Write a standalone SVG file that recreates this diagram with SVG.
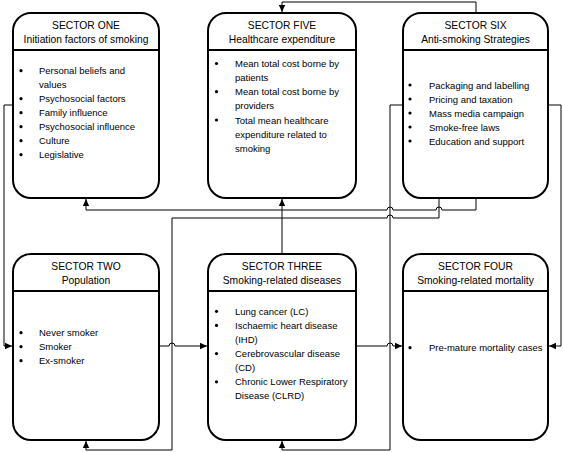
<svg xmlns="http://www.w3.org/2000/svg" width="563" height="452" viewBox="0 0 563 452">
<defs>
<style>
.box{fill:#fff;stroke:#000;stroke-width:2}
.div{stroke:#000;stroke-width:2}
.t{font-family:"Liberation Sans",Arial,sans-serif;font-size:10.3px;text-anchor:middle;fill:#000}
.i{font-family:"Liberation Sans",Arial,sans-serif;font-size:9.5px;fill:#000}
.b{fill:#000}
.c{fill:none;stroke:#000;stroke-width:1}
</style>
<marker id="ah" markerUnits="userSpaceOnUse" markerWidth="8" markerHeight="8" refX="7" refY="4" orient="auto">
<path d="M0,0.8 L7,4 L0,7.2 Z" fill="#000"/>
</marker>
</defs>
<rect width="563" height="452" fill="#fff"/>
<g id="connectors">
<path class="c" d="M13,105 H4 V346 H12" marker-end="url(#ah)"/>
<path class="c" d="M476,13 V2 H282 V12" marker-end="url(#ah)"/>
<path class="c" d="M476,198 V210 H442 a3,3 0 0 0 -6,0 H393 a3,3 0 0 0 -6,0 H86 V199" marker-end="url(#ah)"/>
<path class="c" d="M439,198 V218 H393 a3,3 0 0 0 -6,0 H172 V450 H86 V441" marker-end="url(#ah)"/>
<path class="c" d="M403,105 H390 V450 H282 V441" marker-end="url(#ah)"/>
<path class="c" d="M548,105 H561 V346 H549" marker-end="url(#ah)"/>
<path class="c" d="M282,254 V199" marker-end="url(#ah)"/>
<path class="c" d="M159,346 H169 a3,3 0 0 1 6,0 H207" marker-end="url(#ah)"/>
<path class="c" d="M356,346 H387 a3,3 0 0 1 6,0 H402" marker-end="url(#ah)"/>
</g>
<g id="sector-one">
<rect class="box" x="13" y="13" width="146" height="185" rx="18"/>
<line class="div" x1="13" y1="50" x2="159" y2="50"/>
<text class="t" x="86" y="28.5">SECTOR ONE</text>
<text class="t" x="86" y="42.5">Initiation factors of smoking</text>
<circle class="b" cx="21" cy="70.7" r="1.6"/><text class="i" x="39" y="74">Personal beliefs and</text>
<text class="i" x="39" y="88">values</text>
<circle class="b" cx="21" cy="98.7" r="1.6"/><text class="i" x="39" y="102">Psychosocial factors</text>
<circle class="b" cx="21" cy="112.7" r="1.6"/><text class="i" x="39" y="116">Family influence</text>
<circle class="b" cx="21" cy="126.7" r="1.6"/><text class="i" x="39" y="130">Psychosocial influence</text>
<circle class="b" cx="21" cy="140.7" r="1.6"/><text class="i" x="39" y="144">Culture</text>
<circle class="b" cx="21" cy="154.7" r="1.6"/><text class="i" x="39" y="158">Legislative</text>
</g>
<g id="sector-five">
<rect class="box" x="208" y="13" width="148" height="185" rx="18"/>
<line class="div" x1="208" y1="50" x2="356" y2="50"/>
<text class="t" x="282" y="28.5">SECTOR FIVE</text>
<text class="t" x="282" y="42.5">Healthcare expenditure</text>
<circle class="b" cx="216.5" cy="63.5" r="1.6"/><text class="i" x="235" y="67">Mean total cost borne by</text>
<text class="i" x="235" y="81">patients</text>
<circle class="b" cx="216.5" cy="91.7" r="1.6"/><text class="i" x="235" y="95.2">Mean total cost borne by</text>
<text class="i" x="235" y="109.3">providers</text>
<circle class="b" cx="216.5" cy="120" r="1.6"/><text class="i" x="235" y="123.5">Total mean healthcare</text>
<text class="i" x="235" y="137.6">expenditure related to</text>
<text class="i" x="235" y="151.7">smoking</text>
</g>
<g id="sector-six">
<rect class="box" x="403" y="13" width="145" height="185" rx="18"/>
<line class="div" x1="403" y1="50" x2="548" y2="50"/>
<text class="t" x="475.5" y="28.5">SECTOR SIX</text>
<text class="t" x="475.5" y="42.5">Anti-smoking Strategies</text>
<circle class="b" cx="410" cy="85" r="1.6"/><text class="i" x="429" y="88.5">Packaging and labelling</text>
<circle class="b" cx="410" cy="99" r="1.6"/><text class="i" x="429" y="102.5">Pricing and taxation</text>
<circle class="b" cx="410" cy="113" r="1.6"/><text class="i" x="429" y="116.5">Mass media campaign</text>
<circle class="b" cx="410" cy="127" r="1.6"/><text class="i" x="429" y="130.5">Smoke-free laws</text>
<circle class="b" cx="410" cy="141" r="1.6"/><text class="i" x="429" y="144.5">Education and support</text>
</g>
<g id="sector-two">
<rect class="box" x="13" y="254" width="146" height="186" rx="18"/>
<line class="div" x1="13" y1="291" x2="159" y2="291"/>
<text class="t" x="86" y="269.5">SECTOR TWO</text>
<text class="t" x="86" y="283.5">Population</text>
<circle class="b" cx="21" cy="332.7" r="1.6"/><text class="i" x="39" y="336.2">Never smoker</text>
<circle class="b" cx="21" cy="346.7" r="1.6"/><text class="i" x="39" y="350.2">Smoker</text>
<circle class="b" cx="21" cy="360.7" r="1.6"/><text class="i" x="39" y="364.2">Ex-smoker</text>
</g>
<g id="sector-three">
<rect class="box" x="208" y="254" width="148" height="186" rx="18"/>
<line class="div" x1="208" y1="291" x2="356" y2="291"/>
<text class="t" x="282" y="269.5">SECTOR THREE</text>
<text class="t" x="282" y="283.5">Smoking-related diseases</text>
<circle class="b" cx="216.5" cy="311.3" r="1.6"/><text class="i" x="235" y="314.8">Lung cancer (LC)</text>
<circle class="b" cx="216.5" cy="325.4" r="1.6"/><text class="i" x="235" y="328.9">Ischaemic heart disease</text>
<text class="i" x="235" y="343">(IHD)</text>
<circle class="b" cx="216.5" cy="353.6" r="1.6"/><text class="i" x="235" y="357.1">Cerebrovascular disease</text>
<text class="i" x="235" y="371.2">(CD)</text>
<circle class="b" cx="216.5" cy="381.8" r="1.6"/><text class="i" x="235" y="385.3">Chronic Lower Respiratory</text>
<text class="i" x="235" y="399.4">Disease (CLRD)</text>
</g>
<g id="sector-four">
<rect class="box" x="403" y="254" width="145" height="186" rx="18"/>
<line class="div" x1="403" y1="291" x2="548" y2="291"/>
<text class="t" x="475.5" y="269.5">SECTOR FOUR</text>
<text class="t" x="475.5" y="283.5">Smoking-related mortality</text>
<circle class="b" cx="410" cy="347.7" r="1.6"/><text class="i" x="429" y="351.2">Pre-mature mortality cases</text>
</g>
</svg>
